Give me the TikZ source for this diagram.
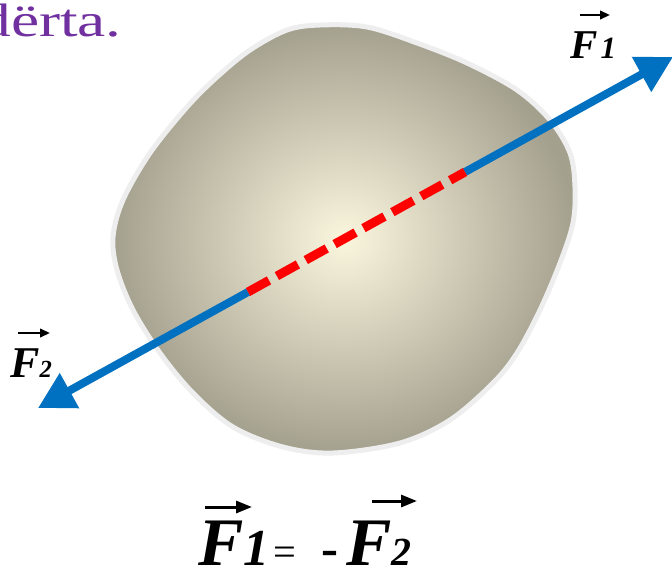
\documentclass[tikz,border=0pt]{standalone}
\usepackage{graphicx}
\usepackage{fontspec}
\setmainfont{Liberation Serif}
\usetikzlibrary{arrows.meta}
\definecolor{DeepPurple}{RGB}{112, 48, 160}
\definecolor{ForceBlue}{RGB}{0, 112, 192}
\definecolor{BlobCore}{RGB}{250, 246, 222}
\definecolor{BlobEdge}{RGB}{164, 160, 142}
\definecolor{RimGray}{RGB}{238, 238, 238}
\newcommand{\fsz}[1]{\fontsize{#1}{#1}\selectfont}

\begin{document}
\begin{tikzpicture}[
            x=0.02cm, y=-0.02cm,
            force/.style={line width=0.16cm, ForceBlue, -{Triangle[length=0.72cm, width=0.76cm]}},
            inside/.style={line width=0.18cm, red, dash pattern=on 0.48cm off 0.18cm},
            vlabel/.style={inner sep=0, anchor=base west, font=\bfseries\itshape},
            accent/.style={line width=0.045cm, -{Triangle[length=0.2cm, width=0.17cm]}},
            bigaccent/.style={line width=0.06cm, -{Triangle[length=0.32cm, width=0.24cm]}}
        ]
            \useasboundingbox (0,0) rectangle (672,568);
            \clip (0,0) rectangle (672,568);
            \node[anchor=base west, inner sep=0, text=DeepPurple, font=\fsz{26.7}] (title) at (-21,36) {\scalebox{1.35}[1]{dërta.}};
            \shadedraw[draw=RimGray, line width=0.1cm, inner color=BlobCore, outer color=BlobEdge]
                plot[smooth cycle, tension=0.55] coordinates {(320,25) (367,27) (417,43) (467,63) (517,90) (550,120) (570,153) (575,187) (573,223) (560,263) (540,310) (517,353) (493,383) (450,420) (400,443) (333,453) (283,447) (233,427) (193,393) (160,353) (133,310) (117,270) (113,237) (123,200) (150,153) (187,107) (217,77) (250,50) (287,30)};
            \coordinate (hitA) at (465,172);
            \coordinate (hitB) at (248,292);
            \coordinate (tipA) at (673,57);
            \coordinate (tipB) at (38,408);
            \draw[force] (hitA) -- (tipA);
            \draw[force] (hitB) -- (tipB);
            \draw[inside] (hitB) -- (hitA);
            \node[vlabel] (lblA) at (570,58) {\fsz{23.3}F\kern0.06cm\fsz{17.6}1};
            \node[vlabel] (lblB) at (10,377) {\fsz{25}F\fsz{14}2};
            \node[vlabel] (law) at (198,565) {\fsz{38.7}F\fsz{29.5}1\hspace{0.08cm}{\upshape\mdseries\fsz{23}=}\hspace{0.5cm}{\upshape\fsz{29}-}\hspace{0.16cm}\fsz{38.7}F\fsz{22.7}2};
            \draw[accent] ([shift={(10,-43)}]lblA.base west) -- ++(30,0);
            \draw[accent] ([shift={(8,-44)}]lblB.base west) -- ++(32,0);
            \draw[bigaccent] ([shift={(7,-58)}]law.base west) -- ++(47,0);
            \draw[bigaccent] ([shift={(174,-64)}]law.base west) -- ++(45,0);
        \end{tikzpicture}
\end{document}
